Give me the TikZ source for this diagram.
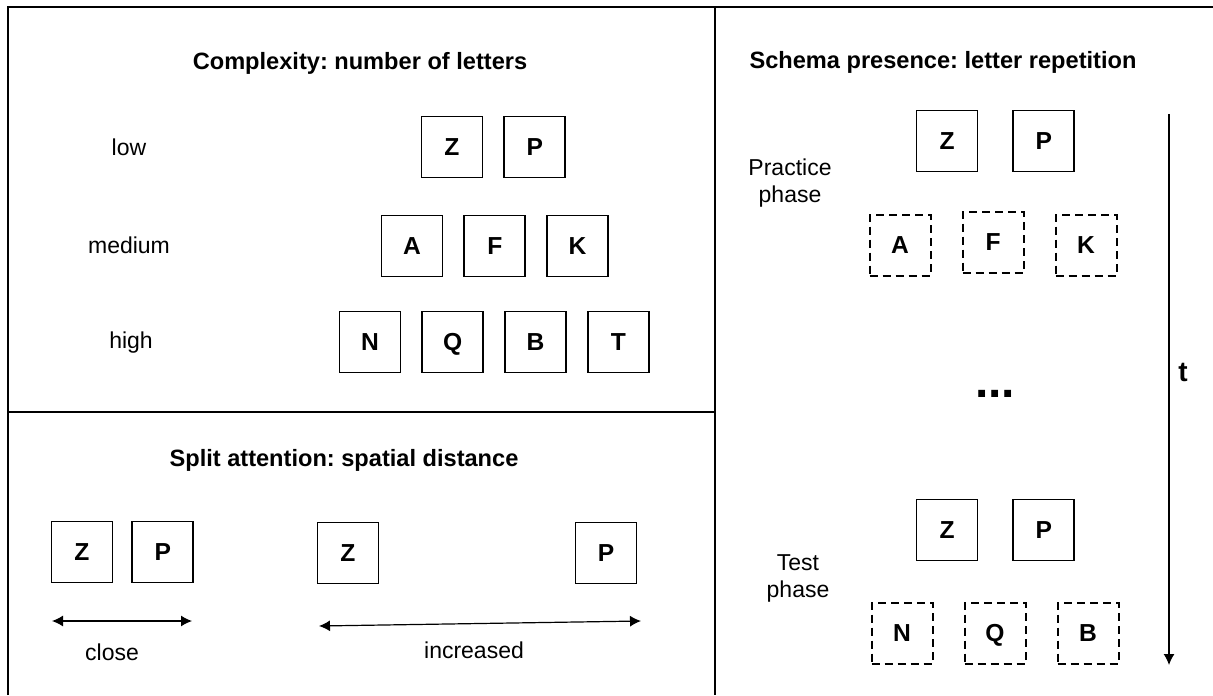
\documentclass[tikz,border=0pt]{standalone}
\usepackage{fontspec}
\setmainfont{Liberation Sans}
\frenchspacing
\usetikzlibrary{positioning,arrows.meta}

\begin{document}
\begin{tikzpicture}[
x=0.5pt, y=-0.5pt,
font=\fontsize{11.5}{13.5}\selectfont,
frame/.style={line width=1.1pt},
letter/.style={draw, line width=0.9pt, minimum size=30.5pt, inner sep=0pt, text height=8.8pt, text depth=0pt, font=\fontsize{12.3}{14}\selectfont\bfseries},
cue/.style={letter, line width=1pt, dash pattern=on 4pt off 2.5pt},
heading/.style={font=\fontsize{11.8}{14}\selectfont\bfseries},
arrow/.style={line width=0.6pt, -{Latex[length=5.5pt,width=5.5pt]}},
twoway/.style={line width=0.6pt, {Latex[length=5.5pt,width=5.5pt]}-{Latex[length=5.5pt,width=5.5pt]}},
]
\useasboundingbox (0,0) rectangle (1213,695);

% panels
\draw[frame] (8,695) -- (8,7) -- (1213,7);
\draw[frame] (715,7) -- (715,695);
\draw[frame] (8,412) -- (715,412);

% complexity
\node[heading] (cplx) at (360,63) {Complexity: number of letters};

\node (low) at (129,147) {low};
\node (med) at (129,245) {medium};
\node (high) at (131,343) {high};

\node[letter] (lz) at (452,147) {Z};
\node[letter] (lp) [right=10pt of lz] {P};

\node[letter] (ma) at (412,246) {A};
\node[letter] (mf) [right=10pt of ma] {F};
\node[letter] (mk) [right=10pt of mf] {K};

\node[letter] (hn) at (370,342) {N};
\node[letter] (hq) [right=10pt of hn] {Q};
\node[letter] (hb) [right=10pt of hq] {B};
\node[letter] (ht) [right=10pt of hb] {T};

% split attention
\node[heading] (split) at (344,460) {Split attention: spatial distance};

\node[letter] (cz) at (82,552) {Z};
\node[letter] (cp) [right=9pt of cz] {P};
\node[letter] (iz) at (348,553) {Z};
\node[letter] (ip) at (606,553) {P};

\coordinate (cl) at (52,621);
\coordinate (cr) at (192,621);
\coordinate (il) at (319,626);
\coordinate (ir) at (641,621);
\draw[twoway] (cl) -- (cr);
\draw[twoway] (il) -- (ir);

\node (close) at (112,652) {close};
\node (incr) at (474,650) {increased};

% schema presence
\node[heading] (schema) at (943,62) {Schema presence: letter repetition};

\node[align=center] (prac) at (790,183) {Practice\\phase};
\node[letter] (pz) at (947,141) {Z};
\node[letter] (pp) [right=17pt of pz] {P};
\node[cue] (pa) at (900,245) {A};
\node[cue] (pf) [right=15pt of pa, yshift=1.5pt] {F};
\node[cue] (pk) [right=15pt of pf, yshift=-1.5pt] {K};

\node[anchor=base, font=\fontsize{24}{26}\selectfont\bfseries] (dots) at (995,397) {...};

\node[align=center] (test) at (798,578) {Test\\phase};
\node[letter] (tz) at (947,530) {Z};
\node[letter] (tp) [right=17pt of tz] {P};
\node[cue] (tn) at (902,633) {N};
\node[cue] (tq) [right=15pt of tn] {Q};
\node[cue] (tb) [right=15pt of tq] {B};

\coordinate (ts) at (1169,114);
\coordinate (te) at (1169,665);
\draw[arrow] (ts) -- (te);
\node[font=\fontsize{14}{16}\selectfont\bfseries] (time) at (1183,372) {t};

\end{tikzpicture}
\end{document}
